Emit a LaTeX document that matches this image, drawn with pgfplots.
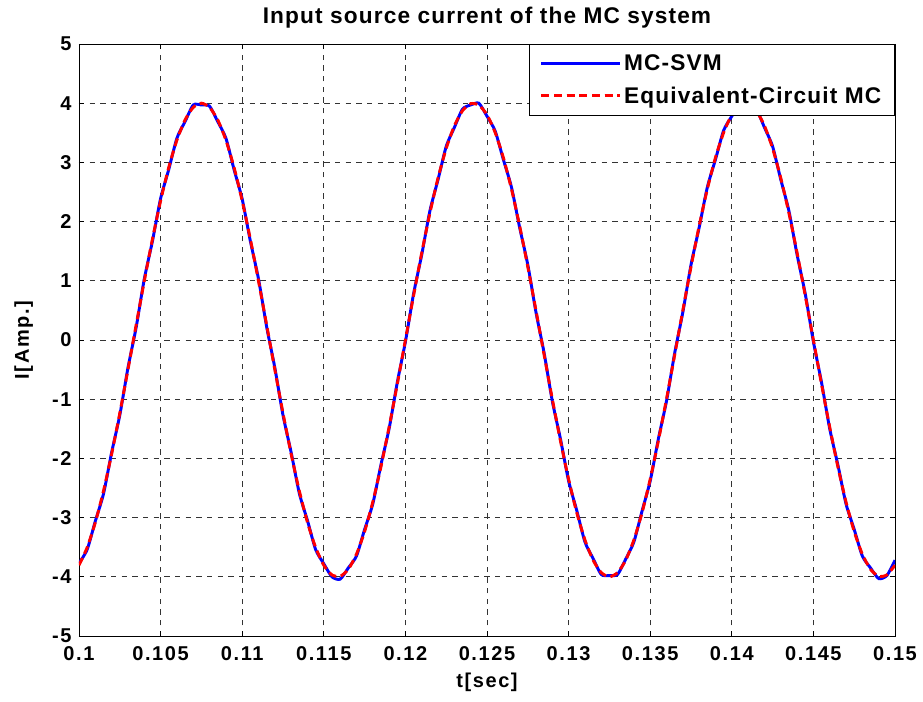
\documentclass[border=0pt]{standalone}
\usepackage{pgfplots}
\pgfplotsset{compat=1.18}
\usepackage{fontspec}
\setmainfont{Liberation Sans}[LetterSpace=5]
\begin{document}
\begin{tikzpicture}
\begin{axis}[
  scale only axis, width=612pt, height=444pt,
  xmin=0.1, xmax=0.15, ymin=-5, ymax=5,
  xtick={0.1,0.105,0.11,0.115,0.12,0.125,0.13,0.135,0.14,0.145,0.15},
  xticklabels={0.1,0.105,0.11,0.115,0.12,0.125,0.13,0.135,0.14,0.145,0.15},
  ytick={-5,-4,-3,-2,-1,0,1,2,3,4,5},
  yticklabels={-5,-4,-3,-2,-1,0,1,2,3,4,5},
  scaled x ticks=false,
  tick align=inside, tick pos=both,
  major tick length=4pt,
  grid=major,
  major grid style={black!80, dash pattern=on 4pt off 4pt, line width=0.5pt},
  axis line style={black, line width=0.7pt},
  tick style={black, line width=0.7pt},
  ticklabel style={font=\fontsize{15}{17}\selectfont\bfseries\addfontfeature{LetterSpace=8}},
  xticklabel style={anchor=center, yshift=-13.5pt},
  yticklabel style={anchor=east, xshift=-2pt},
  title={\fontsize{17}{20}\selectfont\bfseries Input source current of the MC system},
  title style={at={(axis description cs:0.5,1)}, anchor=center, yshift=14pt},
  xlabel={\fontsize{15}{17}\selectfont\bfseries\addfontfeature{LetterSpace=8}t[sec]},
  ylabel={\fontsize{15}{17}\selectfont\bfseries\addfontfeature{LetterSpace=8}I[Amp.]},
  xlabel style={at={(axis description cs:0.5,0)}, anchor=center, yshift=-35pt},
  ylabel style={at={(axis description cs:0,0.5)}, anchor=center, yshift=41.5pt},
  legend style={at={(1,1)}, anchor=north east, draw=black, line width=0.7pt,
    font=\fontsize{17}{20}\selectfont\bfseries, row sep=6.75pt, inner xsep=8pt, inner ysep=5.5pt},
  legend cell align=left,
  legend image code/.code={\draw[#1] (0pt,0pt) -- (55pt,0pt); \path (0pt,0pt) -- (59pt,0pt);},
]
\addplot[blue, line width=2.2pt, smooth, tension=0.4] coordinates {
(0.1000,-3.77) (0.1005,-3.54) (0.1010,-3.06) (0.1015,-2.60) (0.1020,-1.90)
(0.1025,-1.27) (0.1030,-0.47) (0.1035,0.21) (0.1040,1.03) (0.1045,1.67)
(0.1050,2.39) (0.1055,2.88) (0.1060,3.41) (0.1065,3.69) (0.1070,3.97)
(0.1075,3.97) (0.1080,3.95) (0.1085,3.69) (0.1090,3.41) (0.1095,2.88)
(0.1100,2.38) (0.1105,1.67) (0.1110,1.03) (0.1115,0.22) (0.1120,-0.47)
(0.1125,-1.27) (0.1130,-1.90) (0.1135,-2.59) (0.1140,-3.05) (0.1145,-3.54)
(0.1150,-3.78) (0.1155,-4.00) (0.1160,-4.04) (0.1165,-3.85) (0.1170,-3.65)
(0.1175,-3.20) (0.1180,-2.77) (0.1185,-2.11) (0.1190,-1.50) (0.1195,-0.72)
(0.1200,-0.03) (0.1205,0.78) (0.1210,1.44) (0.1215,2.18) (0.1220,2.71)
(0.1225,3.27) (0.1230,3.59) (0.1235,3.90) (0.1240,3.97) (0.1245,4.00)
(0.1250,3.78) (0.1255,3.53) (0.1260,3.05) (0.1265,2.58) (0.1270,1.90)
(0.1275,1.27) (0.1280,0.47) (0.1285,-0.22) (0.1290,-1.03) (0.1295,-1.67)
(0.1300,-2.38) (0.1305,-2.88) (0.1310,-3.41) (0.1315,-3.69) (0.1320,-3.96)
(0.1325,-3.98) (0.1330,-3.96) (0.1335,-3.70) (0.1340,-3.41) (0.1345,-2.89)
(0.1350,-2.38) (0.1355,-1.67) (0.1360,-1.03) (0.1365,-0.22) (0.1370,0.47)
(0.1375,1.27) (0.1380,1.90) (0.1385,2.58) (0.1390,3.05) (0.1395,3.54)
(0.1400,3.78) (0.1405,3.99) (0.1410,3.97) (0.1415,3.90) (0.1420,3.59)
(0.1425,3.27) (0.1430,2.71) (0.1435,2.18) (0.1440,1.44) (0.1445,0.78)
(0.1450,-0.03) (0.1455,-0.72) (0.1460,-1.50) (0.1465,-2.11) (0.1470,-2.77)
(0.1475,-3.20) (0.1480,-3.65) (0.1485,-3.85) (0.1490,-4.03) (0.1495,-3.98)
(0.1500,-3.72)
};
\addlegendentry{MC-SVM}
\addplot[red, line width=2.2pt, dash pattern=on 6pt off 3.5pt, smooth, tension=0.4] coordinates {
(0.1000,-3.804) (0.1005,-3.505) (0.1010,-3.082) (0.1015,-2.550) (0.1020,-1.927)
(0.1025,-1.236) (0.1030,-0.501) (0.1035,0.251) (0.1040,0.995) (0.1045,1.703)
(0.1050,2.351) (0.1055,2.916) (0.1060,3.377) (0.1065,3.719) (0.1070,3.929)
(0.1075,4.000) (0.1080,3.929) (0.1085,3.719) (0.1090,3.377) (0.1095,2.916)
(0.1100,2.351) (0.1105,1.703) (0.1110,0.995) (0.1115,0.251) (0.1120,-0.501)
(0.1125,-1.236) (0.1130,-1.927) (0.1135,-2.550) (0.1140,-3.082) (0.1145,-3.505)
(0.1150,-3.804) (0.1155,-3.968) (0.1160,-3.992) (0.1165,-3.874) (0.1170,-3.619)
(0.1175,-3.236) (0.1180,-2.738) (0.1185,-2.143) (0.1190,-1.472) (0.1195,-0.750)
(0.1200,0.000) (0.1205,0.750) (0.1210,1.472) (0.1215,2.143) (0.1220,2.738)
(0.1225,3.236) (0.1230,3.619) (0.1235,3.874) (0.1240,3.992) (0.1245,3.968)
(0.1250,3.804) (0.1255,3.505) (0.1260,3.082) (0.1265,2.550) (0.1270,1.927)
(0.1275,1.236) (0.1280,0.501) (0.1285,-0.251) (0.1290,-0.995) (0.1295,-1.703)
(0.1300,-2.351) (0.1305,-2.916) (0.1310,-3.377) (0.1315,-3.719) (0.1320,-3.929)
(0.1325,-4.000) (0.1330,-3.929) (0.1335,-3.719) (0.1340,-3.377) (0.1345,-2.916)
(0.1350,-2.351) (0.1355,-1.703) (0.1360,-0.995) (0.1365,-0.251) (0.1370,0.501)
(0.1375,1.236) (0.1380,1.927) (0.1385,2.550) (0.1390,3.082) (0.1395,3.505)
(0.1400,3.804) (0.1405,3.968) (0.1410,3.992) (0.1415,3.874) (0.1420,3.619)
(0.1425,3.236) (0.1430,2.738) (0.1435,2.143) (0.1440,1.472) (0.1445,0.750)
(0.1450,0.000) (0.1455,-0.750) (0.1460,-1.472) (0.1465,-2.143) (0.1470,-2.738)
(0.1475,-3.236) (0.1480,-3.619) (0.1485,-3.874) (0.1490,-3.992) (0.1495,-3.968)
(0.1500,-3.804)
};
\addlegendentry{Equivalent-Circuit MC}
\end{axis}
\pgfresetboundingbox
\path[use as bounding box] (current axis.south west) ++(-59.25pt,-48.75pt) rectangle ([shift={(21pt,33pt)}]current axis.north east);
\end{tikzpicture}
\end{document}
